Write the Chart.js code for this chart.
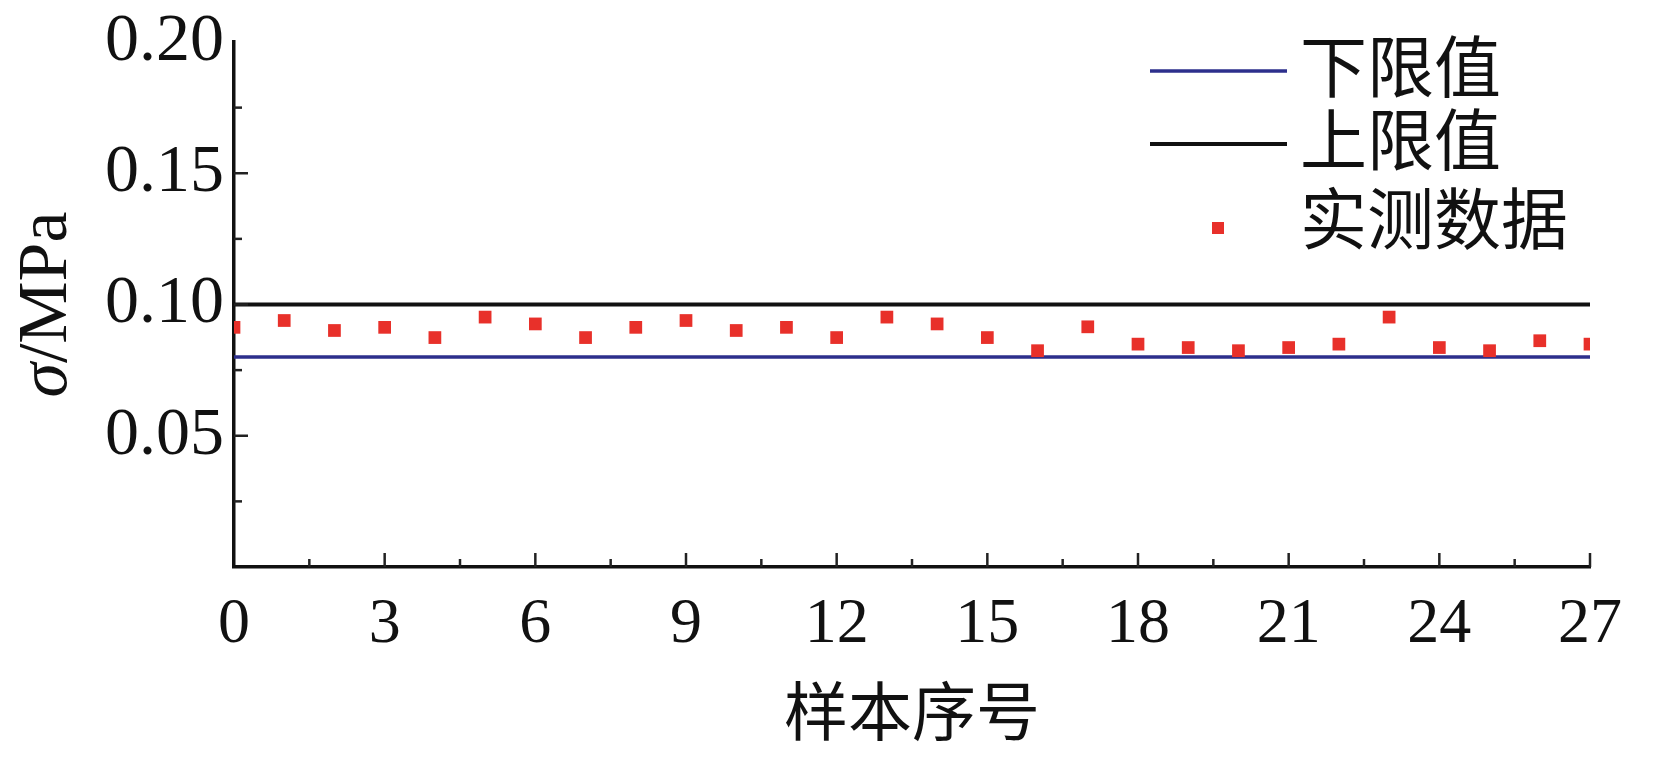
<!DOCTYPE html>
<html><head><meta charset="utf-8">
<script src="https://cdn.jsdelivr.net/npm/chart.js@4"></script>
<style>html,body{margin:0;padding:0;background:#fff;overflow:hidden}</style>
</head><body>
<canvas id="c" width="1654" height="757"></canvas>
<script>
const sampleIndex = [0,1,2,3,4,5,6,7,8,9,10,11,12,13,14,15,16,17,18,19,20,21,22,23,24,25,26,27];
const measured = [0.0913,0.0939,0.0901,0.0913,0.0874,0.0952,0.0926,0.0874,0.0913,0.0939,0.0901,0.0913,0.0874,0.0952,0.0926,0.0874,0.0824,0.0915,0.0849,0.0836,0.0824,0.0836,0.0849,0.0952,0.0836,0.0824,0.0862,0.0849];
const lowerLimit = 0.08;
const upperLimit = 0.10;
const xTickValues = [0,3,6,9,12,15,18,21,24,27];
const xMinorTickValues = [1.5,4.5,7.5,10.5,13.5,16.5,19.5,22.5,25.5];
const yTickValues = [0.05,0.10,0.15,0.20];
const yMinorTickValues = [0.025,0.075,0.125,0.175];
const seriesNames = ['下限值','上限值','实测数据'];
const xTitle = '样本序号';
const yTitleSymbol = 'σ';
const yTitleUnit = '/MPa';

const SERIF = '"Liberation Serif", "Times New Roman", serif';
const CJK = '"Noto Sans CJK SC", sans-serif';

const tickMarks = {
  id: 'tickMarks',
  afterDatasetsDraw(chart) {
    const {ctx, scales: {x, y}, chartArea} = chart;
    ctx.save();
    ctx.strokeStyle = '#222';
    ctx.lineWidth = 2.5;
    const drawX = (vals, len) => vals.forEach(v => {
      const px = x.getPixelForValue(v);
      ctx.beginPath(); ctx.moveTo(px, chartArea.bottom); ctx.lineTo(px, chartArea.bottom - len); ctx.stroke();
    });
    const drawY = (vals, len) => vals.forEach(v => {
      const py = y.getPixelForValue(v);
      ctx.beginPath(); ctx.moveTo(chartArea.left, py); ctx.lineTo(chartArea.left + len, py); ctx.stroke();
    });
    drawX(xTickValues.slice(1), 14);
    drawX(xMinorTickValues, 8);
    drawY(yTickValues.slice(0, -1), 14);
    drawY(yMinorTickValues, 8);
    ctx.restore();
  }
};

const yTitlePlugin = {
  id: 'yTitlePlugin',
  afterDraw(chart) {
    const {ctx, chartArea} = chart;
    const fSym = 'italic 70px ' + SERIF;
    const fUnit = '70px ' + SERIF;
    ctx.save();
    ctx.font = fSym; const w1 = ctx.measureText(yTitleSymbol).width;
    ctx.font = fUnit; const w2 = ctx.measureText(yTitleUnit).width;
    const cy = (chartArea.top + chartArea.bottom) / 2;
    ctx.translate(48, cy);
    ctx.rotate(-Math.PI / 2);
    ctx.fillStyle = '#111';
    ctx.textBaseline = 'middle';
    ctx.textAlign = 'left';
    const start = -(w1 + w2) / 2;
    ctx.font = fSym; ctx.fillText(yTitleSymbol, start, 0);
    ctx.font = fUnit; ctx.fillText(yTitleUnit, start + w1, 0);
    ctx.restore();
  }
};

const legendPlugin = {
  id: 'customLegend',
  afterDraw(chart) {
    const {ctx, chartArea} = chart;
    const ds = chart.data.datasets;
    const textX = chartArea.right - 290;
    const rows = [chartArea.top + 29, chartArea.top + 102, chartArea.top + 184];
    ctx.save();
    ctx.font = '67px ' + CJK;
    ctx.textBaseline = 'middle';
    ctx.textAlign = 'left';
    ds.forEach((d, i) => {
      const yy = rows[i];
      if (d.type === 'line') {
        ctx.strokeStyle = d.borderColor;
        ctx.lineWidth = d.borderWidth;
        ctx.beginPath(); ctx.moveTo(textX - 150, yy); ctx.lineTo(textX - 13, yy); ctx.stroke();
      } else {
        ctx.fillStyle = d.backgroundColor;
        ctx.fillRect(textX - 88, yy - 4, 12, 12);
      }
      ctx.fillStyle = '#111';
      ctx.fillText(d.label, textX, i === 2 ? yy - 7 : yy - 4);
    });
    ctx.restore();
  }
};

const last = sampleIndex.length - 1;
new Chart(document.getElementById('c'), {
  type: 'scatter',
  data: {
    datasets: [
      { label: seriesNames[0], type: 'line',
        data: [{x: sampleIndex[0], y: lowerLimit}, {x: sampleIndex[last], y: lowerLimit}],
        borderColor: '#2d2f8c', borderWidth: 3.5, pointRadius: 0, fill: false, order: 2 },
      { label: seriesNames[1], type: 'line',
        data: [{x: sampleIndex[0], y: upperLimit}, {x: sampleIndex[last], y: upperLimit}],
        borderColor: '#111111', borderWidth: 4, pointRadius: 0, fill: false, order: 2 },
      { label: seriesNames[2],
        data: sampleIndex.map((x, i) => ({x: x, y: measured[i]})),
        pointStyle: 'rect', pointRadius: 9, backgroundColor: '#e8302a', borderWidth: 0, clip: 0, order: 1 }
    ]
  },
  options: {
    responsive: false,
    animation: false,
    devicePixelRatio: 1,
    layout: { padding: { left: 0, top: 42, right: 64, bottom: 0 } },
    plugins: { legend: { display: false }, tooltip: { enabled: false } },
    scales: {
      x: {
        type: 'linear', min: 0, max: 27,
        afterBuildTicks(s) { s.ticks = xTickValues.map(v => ({value: v})); },
        afterFit(s) { s.height = 190; },
        grid: { display: false, drawTicks: false },
        border: { display: true, color: '#111', width: 3.5 },
        ticks: { color: '#111', font: { family: SERIF, size: 64 }, padding: 20, maxRotation: 0, autoSkip: false,
                 callback: v => String(v) },
        title: { display: true, text: xTitle, color: '#111', font: { family: CJK, size: 64 }, padding: { top: 0, bottom: 8 } }
      },
      y: {
        type: 'linear', min: 0, max: 0.2,
        afterBuildTicks(s) { s.ticks = [{value: 0}].concat(yTickValues.map(v => ({value: v}))); },
        afterFit(s) { s.width = 234; s.paddingTop = 0; s.paddingBottom = 0; },
        grid: { display: false, drawTicks: false },
        border: { display: true, color: '#111', width: 3.5 },
        ticks: { color: '#111', font: { family: SERIF, size: 68 }, padding: 10, autoSkip: false,
                 callback: v => (v === 0 ? '' : v.toFixed(2)) }
      }
    }
  },
  plugins: [tickMarks, yTitlePlugin, legendPlugin]
});
</script>
</body></html>
